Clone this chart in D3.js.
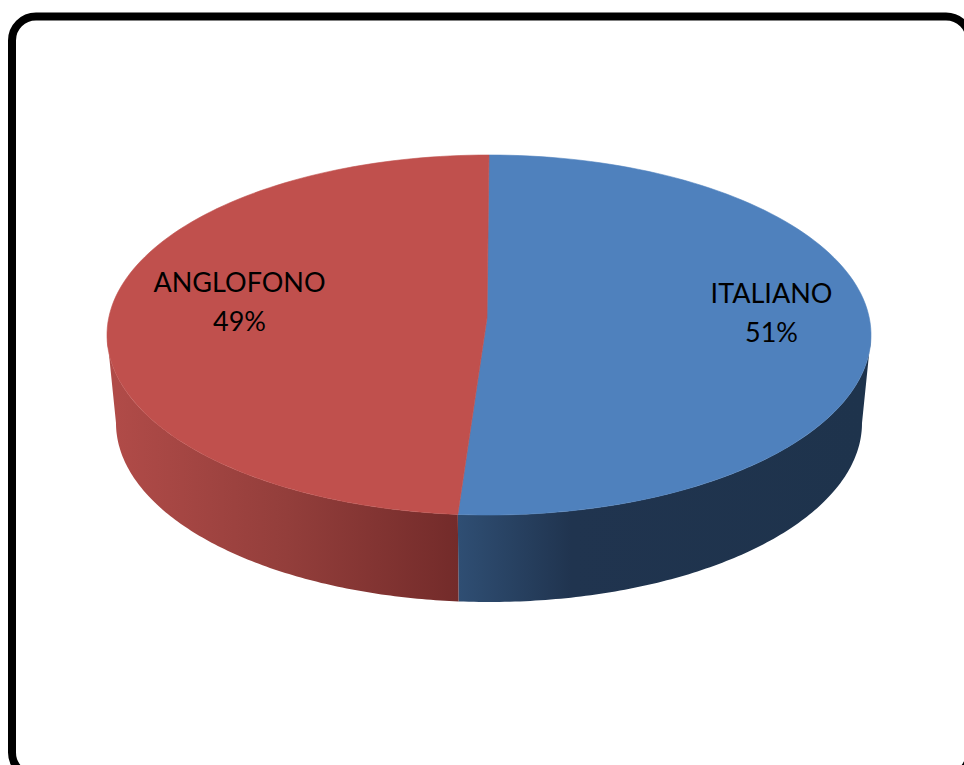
<!DOCTYPE html>
<html><head><meta charset="utf-8">
<script src="https://d3js.org/d3.v7.min.js"></script>
<style>html,body{margin:0;padding:0;background:#fff;overflow:hidden}svg{display:block}</style>
</head><body><svg id="c" width="964" height="765"></svg>
<script>
const categories = ["ITALIANO", "ANGLOFONO"];
const shares = [51.3, 48.7];
const topColors = ["#4f81bd", "#c0504d"];
const sideStops = [
  [[0, "#2f4e73"], [0.28, "#20344f"], [1, "#1e334c"]],
  [[0, "#b04b48"], [0.5, "#933e3b"], [1, "#732b2a"]]
];

const svg = d3.select("#c");
const top3d = {cx: 489, cy: 335, rx: 382, ry: 180};
const low3d = {cx: 489, cy: 423, rx: 373, ry: 179};
const apex = {x: 487, y: 318};

const pie = d3.pie().sort(null).value(d => d)(shares);
const pt = (e, a) => [e.cx + e.rx * Math.sin(a), e.cy - e.ry * Math.cos(a)];
const arcPts = (e, a0, a1) => d3.range(0, 121).map(i => pt(e, a0 + (a1 - a0) * i / 120));
const line = d3.line();
const fmt = d3.format(".0%");

const defs = svg.append("defs");
const Q = Math.PI / 2;
pie.forEach((s, i) => {
  const visible0 = Math.max(s.startAngle, Q), visible1 = Math.min(s.endAngle, 3 * Q);
  const a = pt(low3d, visible0)[0], b = pt(low3d, visible1)[0];
  const g = defs.append("linearGradient").attr("id", "side" + i)
    .attr("gradientUnits", "userSpaceOnUse")
    .attr("x1", b).attr("x2", a).attr("y1", 0).attr("y2", 0);
  sideStops[i].forEach(st => g.append("stop").attr("offset", st[0]).attr("stop-color", st[1]));
  const pts = arcPts(top3d, visible0, visible1).concat(arcPts(low3d, visible1, visible0));
  svg.append("path").attr("d", line(pts) + "Z").attr("fill", `url(#side${i})`);
});

pie.forEach((s, i) => {
  const pts = [[apex.x, apex.y]].concat(arcPts(top3d, s.startAngle, s.endAngle));
  svg.append("path").attr("d", line(pts) + "Z").attr("fill", topColors[i])
    .attr("stroke", topColors[i]).attr("stroke-width", 0.6);
});

const labelAt = [[771.5, 303], [239.5, 292]];
const total = d3.sum(shares);
categories.forEach((c, i) => {
  const g = svg.append("g").attr("font-family", "Lato, 'Open Sans', sans-serif")
    .attr("font-size", 27).attr("fill", "#000").attr("text-anchor", "middle");
  g.append("text").attr("x", labelAt[i][0]).attr("y", labelAt[i][1]).text(c);
  g.append("text").attr("x", labelAt[i][0]).attr("y", labelAt[i][1] + 39).text(fmt(shares[i] / total));
});

svg.append("rect").attr("x", 12).attr("y", 16.5).attr("width", 958).attr("height", 760)
  .attr("rx", 24).attr("fill", "none").attr("stroke", "#000").attr("stroke-width", 8);
</script></body></html>
